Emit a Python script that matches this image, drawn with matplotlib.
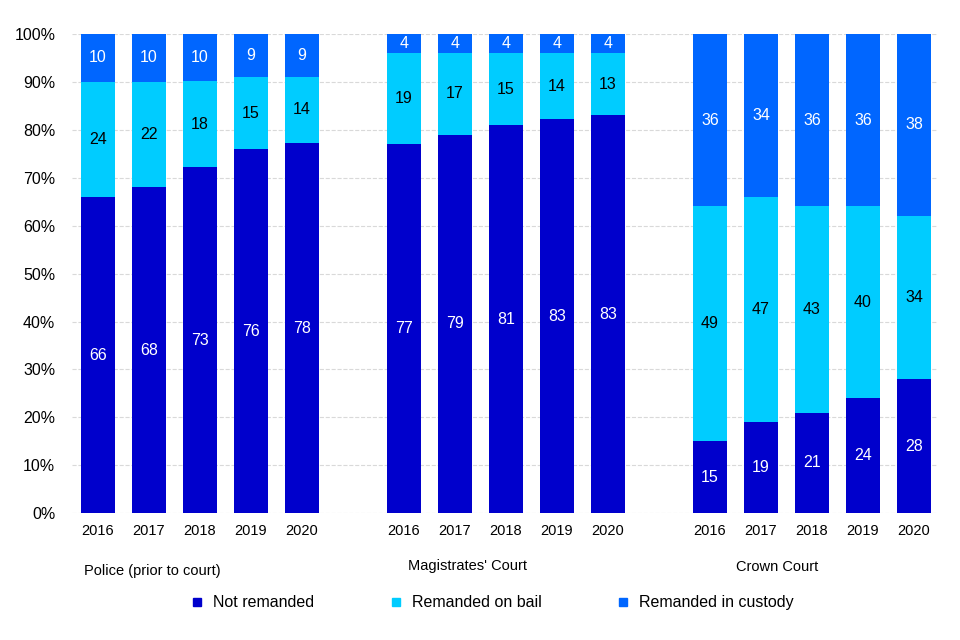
import numpy as np
import matplotlib
matplotlib.use("Agg")
from matplotlib import pyplot as plt
from matplotlib.lines import Line2D

plt.rcParams['font.family'] = ['Liberation Sans', 'DejaVu Sans']

years = ['2016', '2017', '2018', '2019', '2020']
groups = ['Police (prior to court)', "Magistrates' Court", 'Crown Court']

# percentages as labelled on the chart
not_remanded = [66, 68, 73, 76, 78,
                77, 79, 81, 83, 83,
                15, 19, 21, 24, 28]
on_bail = [24, 22, 18, 15, 14,
           19, 17, 15, 14, 13,
           49, 47, 43, 40, 34]
in_custody = [10, 10, 10, 9, 9,
              4, 4, 4, 4, 4,
              36, 34, 36, 36, 38]

c_not = '#0000CC'
c_bail = '#00CCFF'
c_cust = '#0066FF'

a = np.array(not_remanded, dtype=float)
b = np.array(on_bail, dtype=float)
c = np.array(in_custody, dtype=float)
tot = a + b + c
a_p, b_p, c_p = a / tot * 100, b / tot * 100, c / tot * 100

# positions: 5 bars per group, 1 empty slot between groups
x = np.concatenate([np.arange(5) + g * 6 for g in range(3)])

fig = plt.figure(figsize=(9.6, 6.4), dpi=100)
ax = fig.add_axes([0.075, 0.198, 0.901, 0.749])

w = 0.67
ax.bar(x, a_p, width=w, color=c_not, zorder=2)
ax.bar(x, b_p, width=w, bottom=a_p, color=c_bail, zorder=2)
ax.bar(x, c_p, width=w, bottom=a_p + b_p, color=c_cust, zorder=2)

fs = 11.5
for i in range(len(x)):
    ax.text(x[i], a_p[i] / 2, str(not_remanded[i]), ha='center', va='center',
            color='white', fontsize=fs, zorder=3)
    ax.text(x[i], a_p[i] + b_p[i] / 2, str(on_bail[i]), ha='center', va='center',
            color='black', fontsize=fs, zorder=3)
    ax.text(x[i], a_p[i] + b_p[i] + c_p[i] / 2, str(in_custody[i]), ha='center',
            va='center', color='white', fontsize=fs, zorder=3)

ax.set_xlim(-0.51, 16.45)
ax.set_ylim(0, 100)
ax.set_yticks(range(0, 101, 10))
ax.set_yticklabels(['%d%%' % v for v in range(0, 101, 10)], fontsize=11.5)
ax.set_xticks(x)
ax.set_xticklabels(years * 3, fontsize=10.5)
ax.tick_params(length=0, pad=8)
ax.tick_params(axis='y', pad=12)
for s in ax.spines.values():
    s.set_visible(False)
ax.yaxis.grid(True, linestyle='--', color='#d9d9d9', linewidth=0.8)
ax.set_axisbelow(True)

# group labels under the year labels
grp_x = [1.06, 7.24, 13.31]
grp_y = [-12.0, -10.9, -11.3]
for g in range(3):
    ax.text(grp_x[g], grp_y[g], groups[g], ha='center', va='center',
            fontsize=10.5, transform=ax.transData, clip_on=False)

handles = [Line2D([], [], marker='s', linestyle='none', markersize=6,
                  color=col) for col in (c_not, c_bail, c_cust)]
fig.legend(handles, ['Not remanded', 'Remanded on bail', 'Remanded in custody'],
           loc='center', bbox_to_anchor=(0.512, 0.058), ncol=3, frameon=False,
           fontsize=11.5, handlelength=1.0, handletextpad=0.5,
           columnspacing=4.6)

fig.savefig('out.png', dpi=100)
